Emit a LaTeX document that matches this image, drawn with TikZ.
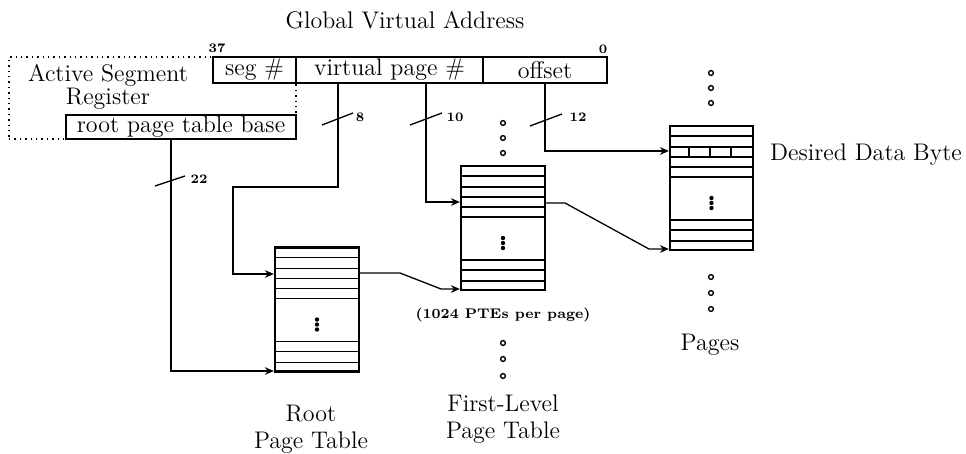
\documentclass[tikz,border=0pt]{standalone}
\usetikzlibrary{arrows.meta,calc}
\begin{document}
\begin{tikzpicture}[x=0.5pt,y=-0.5pt,
 big/.style={font=\fontsize{12}{13}\selectfont, inner sep=0pt},
 num/.style={font=\fontsize{6.5}{7}\selectfont\bfseries, inner sep=0pt},
 field/.style={draw, line width=0.8pt, minimum height=13pt, inner sep=0pt, font=\fontsize{12}{13}\selectfont},
 tablebox/.style={draw, line width=1.1pt, minimum width=42pt, minimum height=62pt, inner sep=0pt},
 rowline/.style={line width=0.7pt},
 conn/.style={line width=0.65pt},
 arr/.style={conn, -{Stealth[length=4.5pt,width=3.8pt]}},
 ring/.style={line width=0.7pt},
 slash/.style={line width=0.65pt},
]
\useasboundingbox (0,0) rectangle (966,454);

% title
\node[big] (title) at (405,20) {Global Virtual Address};

% active segment register (dotted)
\node[draw, dotted, line width=0.7pt, minimum width=143.5pt, minimum height=41pt, inner sep=0pt] (asr) at (152.5,98) {};
\node[font=\fontsize{12}{10}\selectfont, inner sep=0pt, align=center] (asrA) at (108,87) {Active Segment\\Register};
\node[field, minimum width=115pt, minimum height=12pt] (rptb) at (181,127) {root page table base};

% address fields
\node[field, minimum width=41.5pt] (seg) at (254.5,70) {seg \#};
\node[field, minimum width=93.5pt] (vpn) at (389.5,70) {virtual page \#};
\node[field, minimum width=62pt] (off) at (545,70) {offset};
\node[num] (b37) at (217,48) {37};
\node[num] (b0) at (603,49) {0};

% tables
\node[tablebox] (root) at (317,309.5) {};
\node[tablebox] (first) at (503,228) {};
\node[tablebox, minimum width=41.5pt] (pages) at (711.5,188) {};
\foreach \t in {root,first,pages}{
  \foreach \d in {11,22,32,42,52}
    \draw[rowline] ([yshift=-\d*0.5pt]\t.north west) -- ([yshift=-\d*0.5pt]\t.north east);
  \foreach \d in {10,21,31}
    \draw[rowline] ([yshift=\d*0.5pt]\t.south west) -- ([yshift=\d*0.5pt]\t.south east);
  \foreach \d in {-5,0,5}
    \fill ([yshift=-7.5pt-\d*0.5pt]\t.center) circle (1.1pt);
}
\foreach \d in {20,41,62}
  \draw[rowline] ([xshift=\d*0.5pt,yshift=-11pt]pages.north west) -- ([xshift=\d*0.5pt,yshift=-16pt]pages.north west);

% start points
\coordinate (v8) at ([xshift=-25.75pt]vpn.south);
\coordinate (v10) at ([xshift=18.25pt]vpn.south);
\coordinate (b22) at ([xshift=-5pt]rptb.south);

% connectors
\draw[arr] (v8) -- (338,187) -- (233,187) -- (233,274) -- ([yshift=17.75pt]root.west);
\draw[arr] (v10) -- (426,202) -- ([yshift=13pt]first.west);
\draw[arr] (off.south) -- (545,151) -- ([yshift=18.5pt]pages.west);
\draw[arr] (b22) -- (171,371) -- ([yshift=-30.75pt]root.west);
\draw[arr] ([yshift=18.25pt]root.east) -- (400,273) -- (441,289) -- ([yshift=-30.5pt]first.west);
\draw[arr] ([yshift=12.5pt]first.east) -- (565,203) -- (649,249) -- ([yshift=-30.5pt]pages.west);

% bit-width slashes
\draw[slash] (322,125) -- (353,113);
\node[num] (n8) at (360,117) {8};
\draw[slash] (410,125) -- (442,113);
\node[num] (n10) at (455,117) {10};
\draw[slash] (530,126) -- (562,114);
\node[num] (n12) at (578,117) {12};
\draw[slash] (155,186) -- (185,176);
\node[num] (n22) at (199,179) {22};

% continuation rings
\foreach \y in {123,138,153,343,359,376}
  \draw[ring] (503,\y) circle (1.2pt);
\foreach \y in {73,88,103,277,293,309}
  \draw[ring] (711,\y) circle (1.2pt);

% labels
\node[font=\fontsize{7}{8}\selectfont\bfseries, inner sep=0pt] (ptes) at (503,315) {(1024 PTEs per page)};
\node[big] (fl1) at (503,403) {First-Level};
\node[big] (fl2) at (503,433) {Page Table};
\node[big] (rt1) at (311,414) {Root};
\node[big] (rt2) at (311,443) {Page Table};
\node[big] (pg) at (710,345) {Pages};
\node[big] (ddb) at (866,155) {Desired Data Byte};
\end{tikzpicture}
\end{document}
